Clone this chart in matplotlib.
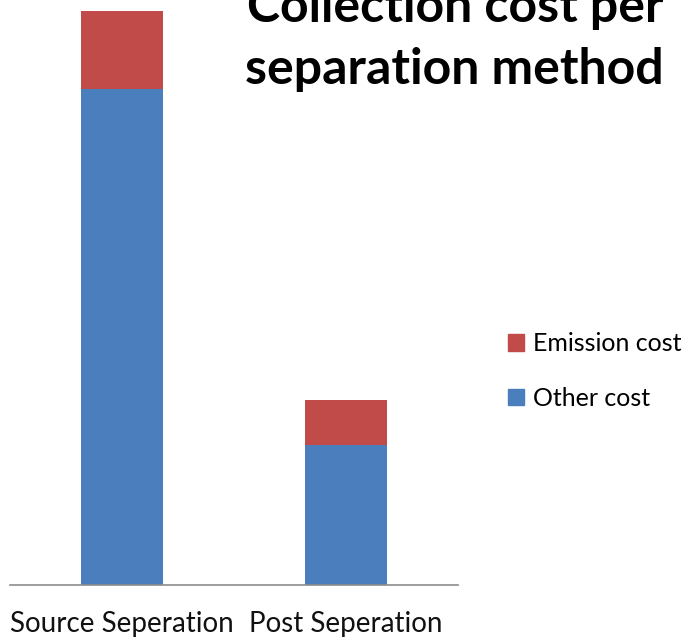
import matplotlib
matplotlib.use("Agg")
import matplotlib.pyplot as plt
from matplotlib.patches import Patch

plt.rcParams['font.family'] = ['Lato', 'DejaVu Sans']

categories = ["Source Seperation", "Post Seperation"]
other_cost = [4.96, 1.40]
emission_cost = [0.78, 0.45]
series_names = ["Emission cost", "Other cost"]

blue = "#4A7EBD"
red = "#C04B49"

fig = plt.figure(figsize=(6.98, 6.41), dpi=100)
ax = fig.add_axes([10 / 698, 56 / 641, 448 / 698, 585 / 641])

x = range(len(categories))
ax.bar(x, other_cost, width=0.37, color=blue, zorder=2)
ax.bar(x, emission_cost, width=0.37, bottom=other_cost, color=red, zorder=2)

ax.set_xlim(-0.5, 1.5)
ax.set_ylim(0, 5.85)
ax.set_yticks([])
ax.set_xticks(list(x))
ax.set_xticklabels(categories, fontsize=20, color="#111111")
ax.tick_params(axis="x", length=0, pad=19)
for side in ("top", "right", "left"):
    ax.spines[side].set_visible(False)
ax.spines["bottom"].set_color("#8c8c8c")
ax.spines["bottom"].set_linewidth(1.2)

fig.text(455 / 698, 1 - 22 / 641, "Collection cost per", ha="center",
         va="baseline", fontsize=36, fontweight="bold")
fig.text(454 / 698, 1 - 84 / 641, "separation method", ha="center",
         va="baseline", fontsize=36, fontweight="bold")

handles = [Patch(color=red), Patch(color=blue)]
fig.legend(handles, series_names, loc="center left",
           bbox_to_anchor=(498 / 698, 1 - 371 / 641), frameon=False,
           fontsize=18, handlelength=0.64, handleheight=0.64,
           handletextpad=0.36, labelspacing=1.25, borderpad=0.4,
           borderaxespad=0)

fig.savefig("out.png", dpi=100)
